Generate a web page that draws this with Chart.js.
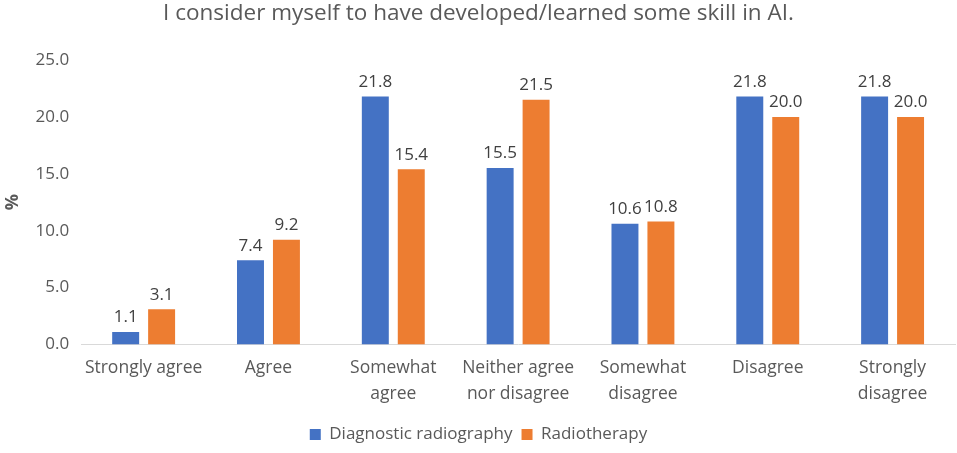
<!DOCTYPE html>
<html>
<head>
<meta charset="utf-8">
<script src="https://cdn.jsdelivr.net/npm/chart.js@4"></script>
<style>
  html, body { margin: 0; padding: 0; background: #fff; }
  #wrap { width: 957px; height: 453px; }
</style>
</head>
<body>
<div id="wrap"><canvas id="grafico"></canvas></div>
<script>
const categorias = [
  'Strongly agree',
  'Agree',
  ['Somewhat', 'agree'],
  ['Neither agree', 'nor disagree'],
  ['Somewhat', 'disagree'],
  'Disagree',
  ['Strongly', 'disagree']
]
const diagnostica = [1.1, 7.4, 21.8, 15.5, 10.6, 21.8, 21.8]
const radioterapia = [3.1, 9.2, 15.4, 21.5, 10.8, 20.0, 20.0]
const ticksY = [0, 5, 10, 15, 20, 25]

const gris = '#595959'
const fuente = '"Open Sans", "Noto Sans", sans-serif'

// etiquetas de valor encima de cada barra
const etiquetas = {
  id: 'etiquetas',
  afterDatasetsDraw(chart) {
    const ctx = chart.ctx
    ctx.save()
    ctx.font = '17px ' + fuente
    ctx.fillStyle = '#404040'
    ctx.textAlign = 'center'
    ctx.textBaseline = 'bottom'
    chart.data.datasets.forEach((ds, i) => {
      chart.getDatasetMeta(i).data.forEach((bar, j) => {
        ctx.fillText(ds.data[j].toFixed(1), bar.x, bar.y - 6)
      })
    })
    ctx.restore()
  }
}

new Chart(document.getElementById('grafico'), {
  type: 'bar',
  data: {
    labels: categorias,
    datasets: [
      { label: 'Diagnostic radiography', data: diagnostica, backgroundColor: '#4472C4' },
      { label: 'Radiotherapy', data: radioterapia, backgroundColor: '#ED7D31' }
    ]
  },
  options: {
    responsive: true,
    maintainAspectRatio: false,
    animation: false,
    devicePixelRatio: 1,
    layout: { padding: { left: 2, right: 2, top: 0, bottom: 0 } },
    datasets: { bar: { categoryPercentage: 0.576, barPercentage: 0.75 } },
    scales: {
      x: {
        grid: { display: false, drawTicks: false },
        border: { color: '#d9d9d9', width: 1 },
        ticks: { color: gris, font: { family: fuente, size: 17.5, lineHeight: 1.5 }, padding: 10, maxRotation: 0, autoSkip: false }
      },
      y: {
        min: 0, max: 25,
        afterBuildTicks: axis => { axis.ticks = ticksY.map(v => ({ value: v })) },
        grid: { display: false, drawTicks: false },
        border: { display: false },
        ticks: { color: gris, font: { family: fuente, size: 17 }, padding: 12, callback: v => v.toFixed(1) },
        title: { display: true, text: '%', color: gris, font: { family: fuente, size: 18, weight: 'bold' }, padding: 0 }
      }
    },
    plugins: {
      title: {
        display: true,
        text: 'I consider myself to have developed/learned some skill in AI.',
        color: gris,
        font: { family: fuente, size: 22.5, weight: 'normal' },
        padding: { top: 0, bottom: 33 }
      },
      legend: {
        position: 'bottom',
        labels: { color: gris, font: { family: fuente, size: 17 }, boxWidth: 11, boxHeight: 11, padding: 9 }
      },
      tooltip: { enabled: false }
    }
  },
  plugins: [etiquetas]
})
</script>
</body>
</html>
